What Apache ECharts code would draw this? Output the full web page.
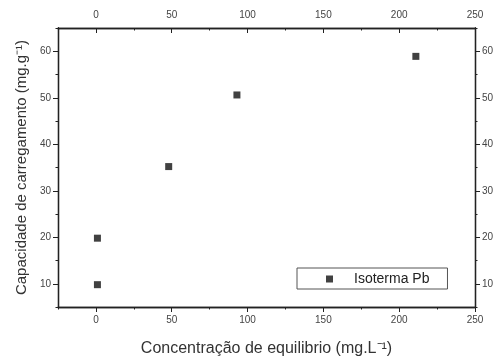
<!DOCTYPE html>
<html>
<head>
<meta charset="utf-8">
<script src="https://cdn.jsdelivr.net/npm/echarts@6/dist/echarts.min.js"></script>
<style>
  body { margin: 0; background: #fff; }
  #chart { width: 495px; height: 359px; }
</style>
</head>
<body>
<div id="chart"></div>
<script>
// concentration (mg/L) vs loading capacity (mg/g)
var concValues = [1, 1, 48, 93, 211]
var capValues = [9.8, 19.8, 35.2, 50.6, 58.9]
var xLabels = [0, 50, 100, 150, 200, 250]
var yLabels = [10, 20, 30, 40, 50, 60]
var seriesName = "Isoterma Pb"

var font = "Liberation Sans, Arial, sans-serif"
var lineCol = "#222"
var labelCol = "#444"

function xAxisDef(pos, major, inside) {
    return {
        type: "value", position: pos, min: -25, max: 250, interval: 25,
        axisLine: { show: true, onZero: false, lineStyle: { color: lineCol, width: 1.3 } },
        splitLine: { show: false },
        axisTick: major
            ? { show: true, inside: inside, length: 5, customValues: xLabels, lineStyle: { color: lineCol } }
            : { show: true, inside: inside, length: 2.5, lineStyle: { color: lineCol } },
        axisLabel: major
            ? { show: true, customValues: xLabels, color: labelCol, fontFamily: font, fontSize: 10, margin: 8 }
            : { show: false }
    }
}

function yAxisDef(pos, major) {
    return {
        type: "value", position: pos, min: 5, max: 65, interval: 5,
        axisLine: { show: true, onZero: false, lineStyle: { color: lineCol, width: 1.3 } },
        splitLine: { show: false },
        axisTick: major
            ? { show: true, length: 5, customValues: yLabels, lineStyle: { color: lineCol } }
            : { show: true, length: 2.5, lineStyle: { color: lineCol } },
        axisLabel: major
            ? { show: true, customValues: yLabels, color: labelCol, fontFamily: font, fontSize: 10, margin: 7 }
            : { show: false }
    }
}

var xb = xAxisDef("bottom", true, false)
xb.name = "Concentração de equilibrio (mg.L⁻¹)"
xb.nameLocation = "middle"
xb.nameGap = 34
xb.nameTextStyle = { color: "#333", fontFamily: font, fontSize: 16 }

var yl = yAxisDef("left", true)
yl.name = "Capacidade de carregamento (mg.g⁻¹)"
yl.nameLocation = "middle"
yl.nameGap = 29
yl.nameTextStyle = { color: "#333", fontFamily: font, fontSize: 15 }

echarts.init(document.getElementById("chart")).setOption({
    animation: false,
    backgroundColor: "#fff",
    grid: { left: 58, top: 28, right: 20, bottom: 52, outerBoundsMode: "none", containLabel: false },
    legend: {
        data: [seriesName],
        left: 297, top: 268,
        padding: [4, 18, 3, 29],
        itemWidth: 7, itemHeight: 7,
        borderColor: "#555", borderWidth: 1,
        textStyle: { color: "#222", fontFamily: font, fontSize: 14, padding: [0, 0, 0, 16] }
    },
    xAxis: [xb, xAxisDef("bottom", false, false), xAxisDef("top", true, true), xAxisDef("top", false, true)],
    yAxis: [yl, yAxisDef("left", false), yAxisDef("right", true), yAxisDef("right", false)],
    series: [{
        name: seriesName,
        type: "scatter",
        symbol: "rect",
        symbolSize: 7,
        itemStyle: { color: "#111" },
        data: concValues.map((c, i) => [c, capValues[i]])
    }]
})
</script>
</body>
</html>
